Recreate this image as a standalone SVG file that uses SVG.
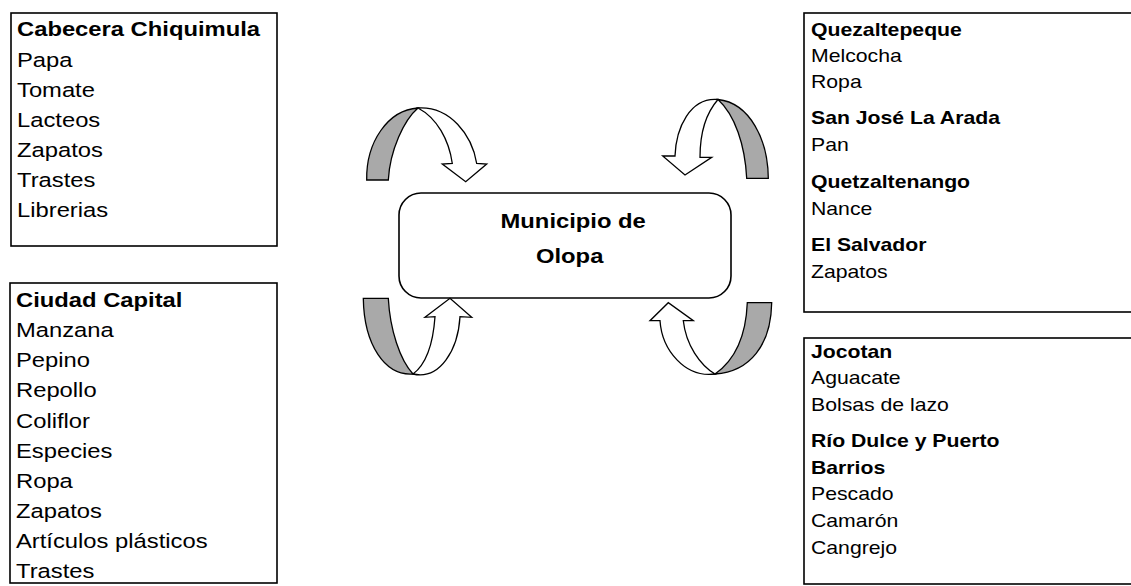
<svg xmlns="http://www.w3.org/2000/svg" width="1131" height="586" viewBox="0 0 1131 586">
<style>
.box{fill:#fff;stroke:#000;stroke-width:1.6}
.t{font-family:"Liberation Sans",Arial,sans-serif;fill:#000}
.l{font-size:20.5px}
.r{font-size:18.3px}
.b{font-weight:bold}
.band{fill:#a9a9a9;stroke:#000;stroke-width:1.3}
.arw{fill:#fff;stroke:#000;stroke-width:1.3;stroke-linejoin:miter}
</style>
<rect width="1131" height="586" fill="#fff"/>
<g id="cabecera">
<rect class="box" x="11" y="13" width="266" height="233"/>
<g transform="translate(17,0) scale(1.16,1)" class="t l">
<text class="b" x="0" y="36">Cabecera Chiquimula</text>
<text x="0" y="67">Papa</text>
<text x="0" y="97">Tomate</text>
<text x="0" y="127">Lacteos</text>
<text x="0" y="157">Zapatos</text>
<text x="0" y="187">Trastes</text>
<text x="0" y="217">Librerias</text>
</g>
</g>
<g id="capital">
<rect class="box" x="10" y="283" width="267" height="300"/>
<g transform="translate(16,0) scale(1.16,1)" class="t l">
<text class="b" x="0" y="307">Ciudad Capital</text>
<text x="0" y="337">Manzana</text>
<text x="0" y="367">Pepino</text>
<text x="0" y="397">Repollo</text>
<text x="0" y="428">Coliflor</text>
<text x="0" y="458">Especies</text>
<text x="0" y="488">Ropa</text>
<text x="0" y="518">Zapatos</text>
<text x="0" y="548">Artículos plásticos</text>
<text x="0" y="578">Trastes</text>
</g>
</g>
<g id="olopa">
<rect class="box" x="399" y="193" width="332" height="105" rx="22" ry="22"/>
<g transform="translate(572,0) scale(1.16,1)" class="t l b" text-anchor="middle">
<text x="1" y="228">Municipio de</text>
<text x="-2" y="263">Olopa</text>
</g>
</g>
<g id="quezaltepeque">
<rect class="box" x="804" y="13" width="340" height="299"/>
<g transform="translate(811,0) scale(1.16,1)" class="t r">
<text class="b" x="0" y="36">Quezaltepeque</text>
<text x="0" y="62">Melcocha</text>
<text x="0" y="88">Ropa</text>
<text class="b" x="0" y="124">San José La Arada</text>
<text x="0" y="151">Pan</text>
<text class="b" x="0" y="188">Quetzaltenango</text>
<text x="0" y="215">Nance</text>
<text class="b" x="0" y="251">El Salvador</text>
<text x="0" y="278">Zapatos</text>
</g>
</g>
<g id="jocotan">
<rect class="box" x="804" y="338" width="340" height="246"/>
<g transform="translate(811,0) scale(1.16,1)" class="t r">
<text class="b" x="0" y="358">Jocotan</text>
<text x="0" y="384">Aguacate</text>
<text x="0" y="411">Bolsas de lazo</text>
<text class="b" x="0" y="447">Río Dulce y Puerto</text>
<text class="b" x="0" y="474">Barrios</text>
<text x="0" y="500">Pescado</text>
<text x="0" y="527">Camarón</text>
<text x="0" y="554">Cangrejo</text>
</g>
</g>
<g id="connectors">
<path class="band" d="M366.7,180 C366,142 388,110 418,108 C404,120 390,150 388.3,180 Z"/>
<path class="arw" d="M418,108 C450,106 472,135 476.7,163.5 L486.7,164 L465.7,181.7 L442.3,164 L452.3,163.5 C449,140 437,118 418,108 Z"/>
<path class="band" d="M768.3,178.3 C768,140 750,103 718,99.5 C735,115 745,145 746.7,178.3 Z"/>
<path class="arw" d="M718,99.5 C690,97 676,128 675,156 L662.7,156 L685,175 L711.7,157.3 L700,157.3 C700,130 707,112 718,99.5 Z"/>
<path class="band" d="M363.3,298.3 L388.3,298.3 C390,330 400,360 413,374 C385,376 364,345 363.3,298.3 Z"/>
<path class="arw" d="M413,374 C440,380 458,350 460,316.7 L471.7,317.3 L450,298.3 L425,317.3 L435,316.7 C433,345 425,365 413,374 Z"/>
<path class="band" d="M747.3,302.7 L771.7,302.7 C771,345 750,372 715,374 C735,360 746,335 747.3,302.7 Z"/>
<path class="arw" d="M715,374 C685,378 662,350 660,320.7 L650,320.7 L668.3,302.7 L693.3,320.7 L683.3,320.7 C686,345 700,365 715,374 Z"/>
</g>
</svg>
